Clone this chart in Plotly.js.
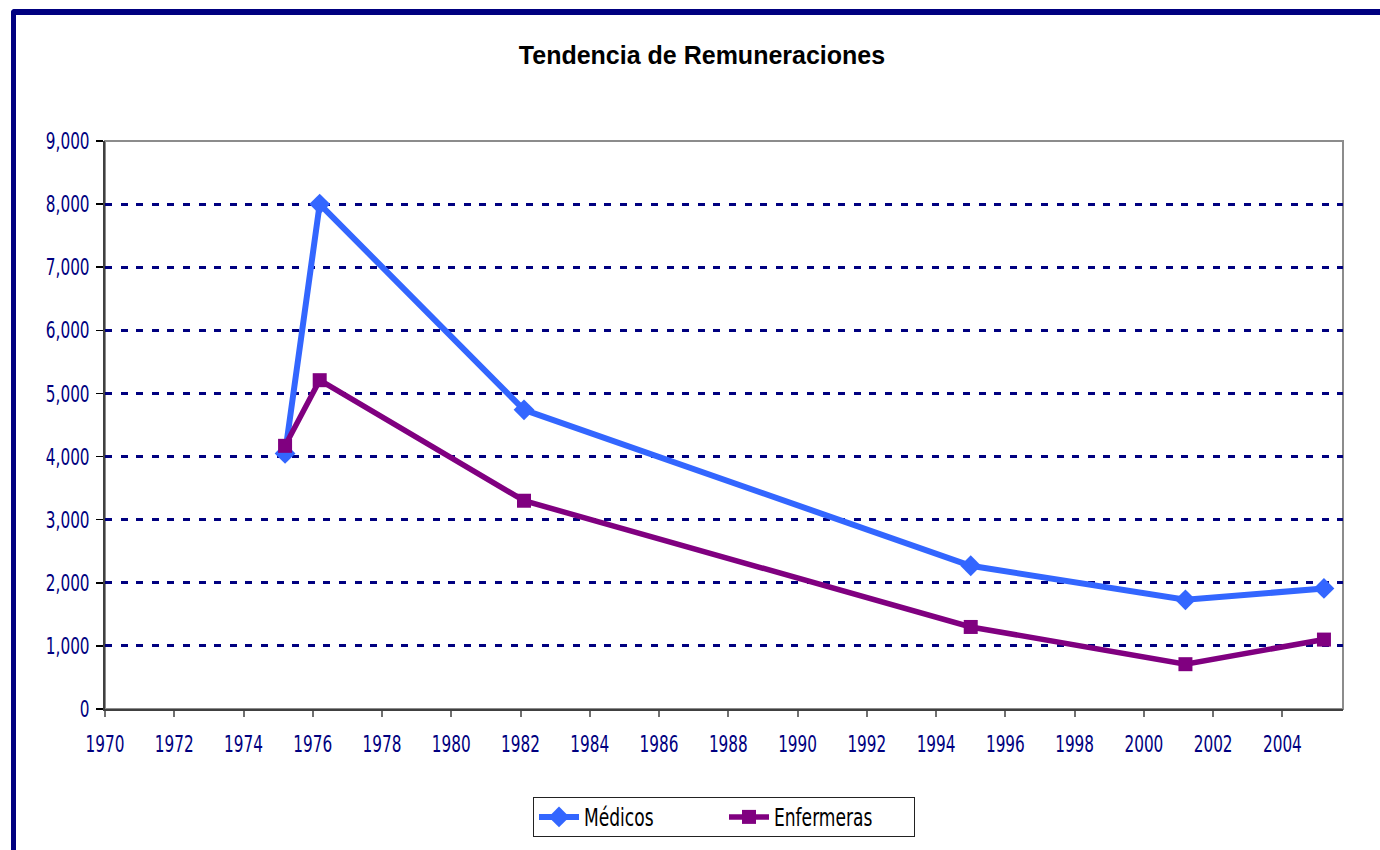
<!DOCTYPE html>
<html>
<head>
<meta charset="utf-8">
<script src="https://cdn.plot.ly/plotly-3.0.1.min.js"></script>
<style>
  html, body { margin: 0; padding: 0; background: #fff; }
  #wrap { position: relative; width: 1380px; height: 850px; overflow: hidden; }
  #frame { position: absolute; left: 11px; top: 9px; width: 1500px; height: 1000px;
           border-left: 5px solid #000080; border-top: 6px solid #000080; border-top-left-radius: 4px; }
  #chart { position: absolute; left: 0; top: 0; width: 1380px; height: 850px; }
</style>
</head>
<body>
<div id="wrap">
  <div id="frame"></div>
  <div id="chart"></div>
</div>
<script>
const years = [1975.2, 1976.2, 1982.1, 1995.0, 2001.2, 2005.2];
const medicos = [4050, 8000, 4740, 2270, 1730, 1910];
const enfermeras = [4170, 5210, 3300, 1300, 710, 1100];
const xTickVals = [1970, 1972, 1974, 1976, 1978, 1980, 1982, 1984, 1986, 1988, 1990, 1992, 1994, 1996, 1998, 2000, 2002, 2004];
const yTickVals = [0, 1000, 2000, 3000, 4000, 5000, 6000, 7000, 8000, 9000];

const narrow = '"DejaVu Sans Condensed", "Liberation Sans Narrow", sans-serif';

const traces = [
  {
    x: years, y: medicos, name: 'Médicos', type: 'scatter', mode: 'lines+markers',
    line: { color: '#3366FF', width: 6 },
    marker: { symbol: 'diamond', size: 16, color: '#3366FF' }
  },
  {
    x: years, y: enfermeras, name: 'Enfermeras', type: 'scatter', mode: 'lines+markers',
    line: { color: '#800080', width: 5.5 },
    marker: { symbol: 'square', size: 14, color: '#800080' }
  }
];

const layout = {
  width: 1380, height: 850,
  paper_bgcolor: 'rgba(0,0,0,0)', plot_bgcolor: '#fff',
  margin: { l: 105, r: 37, t: 141, b: 141 },
  title: {
    text: '<b>Tendencia de Remuneraciones</b>',
    font: { family: 'Liberation Sans, Arial, sans-serif', size: 25, color: '#000' },
    x: 0.5087, xref: 'container', xanchor: 'center', y: 0.935, yanchor: 'middle'
  },
  xaxis: {
    range: [1970, 2005.75], tickvals: xTickVals, ticktext: xTickVals.map(String),
    showgrid: false, zeroline: false,
    showline: true, linecolor: '#404040', linewidth: 2,
    ticks: 'outside', ticklen: 6, tickwidth: 2, tickcolor: '#707070',
    ticklabelstandoff: 13,
    tickfont: { family: narrow, size: 17, color: '#000080' }
  },
  yaxis: {
    range: [0, 9000], tickvals: yTickVals, tickformat: ',d',
    showgrid: true, gridcolor: '#000080', gridwidth: 3, griddash: '7px,8.6px',
    zeroline: false,
    showline: true, linecolor: '#404040', linewidth: 2,
    ticks: 'outside', ticklen: 7, tickwidth: 1.5, tickcolor: '#000',
    ticklabelstandoff: 3,
    tickfont: { family: narrow, size: 17, color: '#000080' }
  },
  shapes: [
    { type: 'rect', xref: 'paper', yref: 'paper', x0: 0, x1: 1, y0: 0, y1: 1,
      line: { color: '#8c8c8c', width: 2 }, layer: 'below' }
  ],
  showlegend: true,
  legend: {
    orientation: 'h', x: 0.5, xanchor: 'center', y: -0.155, yanchor: 'top',
    bgcolor: '#fff', bordercolor: '#222', borderwidth: 1,
    font: { family: narrow, size: 19, color: '#000' },
    entrywidth: 135, entrywidthmode: 'pixels',
    itemwidth: 40
  }
};

function stretchText(selector, s) {
  document.querySelectorAll(selector).forEach(function (t) {
    const bb = t.getBBox();
    const cx = bb.x + bb.width / 2, cy = bb.y + bb.height / 2;
    const cur = t.getAttribute('transform') || '';
    t.setAttribute('transform', cur + ' translate(' + cx + ',' + cy + ') scale(1,' + s + ') translate(' + (-cx) + ',' + (-cy) + ')');
  });
}

Plotly.newPlot('chart', traces, layout, { displayModeBar: false, staticPlot: true }).then(function () {
  stretchText('#chart .xtick text, #chart .ytick text', 1.35);
  stretchText('#chart .legendtext', 1.3);
});
</script>
</body>
</html>
